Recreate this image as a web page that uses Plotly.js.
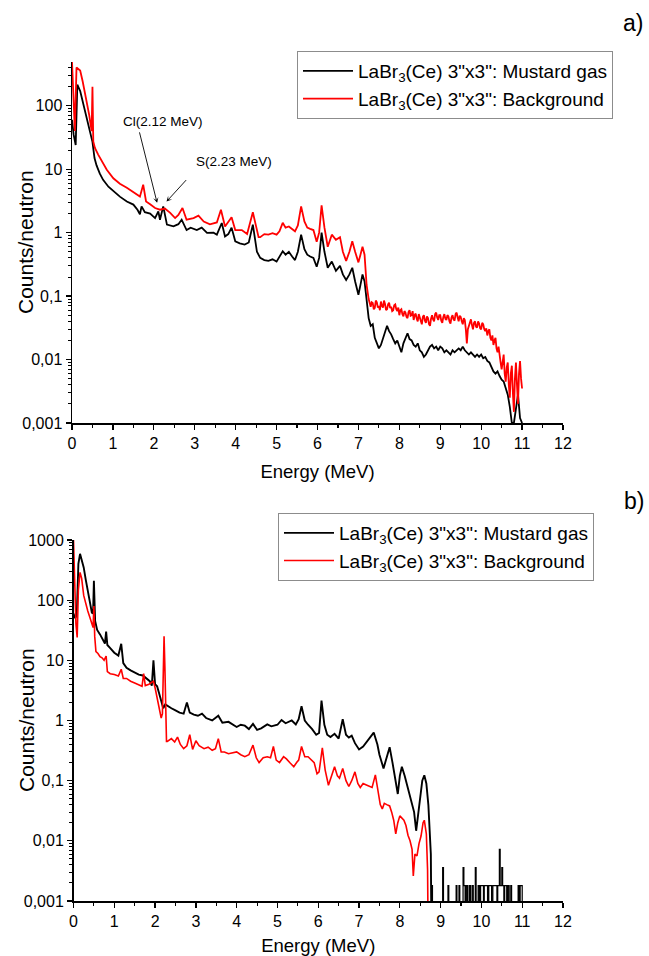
<!DOCTYPE html>
<html>
<head>
<meta charset="utf-8">
<script src="https://cdn.plot.ly/plotly-3.0.1.min.js"></script>
<style>
html,body{margin:0;padding:0;background:#fff;}
#chart{width:649px;height:956px;}
</style>
</head>
<body>
<div id="chart"></div>
<script>
// ---------- Panel a) ----------
const aE_mustard = [0,0.04,0.09,0.13,0.2,0.28,0.36,0.44,0.5,0.55,0.6,0.68,0.76,0.89,1.01,1.17,1.34,1.5,1.6,1.66,1.7,1.78,1.91,2.03,2.11,2.15,2.23,2.32,2.48,2.6,2.68,2.8,2.9,3.05,3.17,3.3,3.46,3.54,3.66,3.74,3.82,3.9,3.99,4.1,4.22,4.32,4.42,4.52,
  4.6,4.7,4.8,4.9,5.0,5.07,5.15,5.22,5.3,5.38,5.45,5.52,5.6,5.68,5.75,5.82,5.9,5.98,6.04,6.1,6.17,6.25,6.35,6.45,6.55,6.62,6.7,6.78,6.85,6.92,7.0,7.05,7.1,7.15,7.2,
  7.25,7.3,7.35,7.4,7.45,7.5,7.55,7.6,7.65,7.7,7.75,7.8,7.85,7.9,7.95,8.0,8.05,8.1,8.15,8.2,8.25,8.3,8.35,8.4,8.45,8.5,8.55,8.6,8.65,8.7,8.75,8.8,8.85,8.9,8.95,
  9.0,9.05,9.1,9.15,9.2,9.25,9.3,9.35,9.4,9.45,9.5,9.55,9.6,9.65,9.7,9.75,9.8,9.85,9.9,9.95,10.0,10.05,10.1,10.15,10.2,10.25,10.3,10.35,10.4,10.45,10.5,10.55,10.6,10.65,10.7,10.75,10.8,10.85,10.9,10.95,11.0];
const aY_mustard = [60,35,24,215,170,105,68,39,27,15,11.5,8.5,6.8,5.3,4.5,3.7,3.1,2.77,2.3,1.95,2.6,2.1,2.0,1.7,2.17,1.6,2.6,1.34,1.26,1.36,1.6,1.1,1.2,1.1,1.2,0.99,1.0,0.93,1.42,0.87,0.95,1.2,0.73,0.68,0.65,0.7,1.34,0.5,
  0.4,0.37,0.36,0.38,0.35,0.42,0.51,0.45,0.5,0.42,0.37,0.5,0.93,0.55,0.45,0.42,0.4,0.29,0.4,1.0,0.5,0.28,0.35,0.25,0.3,0.22,0.18,0.22,0.28,0.17,0.105,0.15,0.22,0.17,0.08,
  0.045,0.034,0.036,0.022,0.018,0.015,0.017,0.022,0.028,0.034,0.028,0.025,0.021,0.018,0.02,0.016,0.013,0.018,0.022,0.026,0.021,0.02,0.017,0.016,0.018,0.014,0.013,0.011,0.012,0.014,0.016,0.017,0.015,0.016,0.014,
  0.016,0.015,0.013,0.014,0.013,0.012,0.014,0.013,0.014,0.015,0.014,0.016,0.014,0.013,0.012,0.013,0.012,0.011,0.012,0.011,0.012,0.0105,0.011,0.0095,0.009,0.0075,0.0065,0.006,0.0065,0.0055,0.0048,0.0045,0.0035,0.0028,0.0018,0.001,0.001,0.0016,0.0028,0.0012,0.001];

const aE_background = [0,0.04,0.07,0.11,0.17,0.2,0.26,0.34,0.42,0.48,0.5,0.52,0.56,0.64,0.73,0.85,1.01,1.17,1.34,1.5,1.66,1.74,1.81,1.91,2.03,2.15,2.27,2.4,2.52,2.6,2.7,2.8,2.97,3.09,3.22,3.37,3.54,3.64,3.74,3.9,3.99,4.15,4.28,4.42,4.56,
  4.6,4.7,4.8,4.9,5.0,5.07,5.15,5.22,5.3,5.38,5.45,5.52,5.6,5.68,5.75,5.82,5.9,5.98,6.04,6.1,6.17,6.25,6.35,6.45,6.55,6.62,6.7,6.78,6.85,6.92,7.0,7.05,7.1,7.15,7.2,
  7.25,7.275,7.3,7.325,7.35,7.375,7.4,7.425,7.45,7.475,7.5,7.525,7.55,7.575,7.6,7.625,7.65,7.675,7.7,7.725,7.75,7.775,7.8,7.825,7.85,7.875,7.9,7.925,7.95,7.975,
  8.0,8.025,8.05,8.075,8.1,8.125,8.15,8.175,8.2,8.225,8.25,8.275,8.3,8.325,8.35,8.375,8.4,8.425,8.45,8.475,8.5,8.525,8.55,8.575,8.6,8.625,8.65,8.675,8.7,8.725,8.75,8.775,8.8,8.825,8.85,8.875,8.9,8.925,8.95,8.975,
  9.0,9.025,9.05,9.075,9.1,9.125,9.15,9.175,9.2,9.225,9.25,9.275,9.3,9.325,9.35,9.375,9.4,9.425,9.45,9.475,9.5,9.525,9.55,9.575,9.6,9.625,9.65,9.675,9.7,9.725,9.75,9.775,9.8,9.825,9.85,9.875,9.9,9.925,9.95,9.975,
  10.0,10.025,10.05,10.075,10.1,10.125,10.15,10.175,10.2,10.225,10.25,10.275,10.3,10.325,10.35,10.375,10.4,10.425,10.45,10.475,10.5,10.525,10.55,10.575,10.6,10.625,10.65,10.675,10.7,10.725,10.75,10.775,10.8,10.825,10.85,10.875,10.9,10.925,10.95,10.975,11.0];
const aY_background = [500,150,40,400,380,360,243,133,72,40,200,27.5,21.7,17,13.3,9.8,7.2,5.9,5.1,4.3,3.7,5.7,3.1,2.8,2.45,2.3,2.4,2.05,1.7,1.9,2.45,1.6,1.7,1.85,1.5,1.35,1.45,2.3,1.25,1.75,1.1,1.1,0.95,2.1,0.85,
  0.85,0.95,0.93,0.98,0.93,1.05,1.43,1.2,1.25,1.15,1.05,1.3,2.6,1.5,1.2,1.15,1.1,0.72,1.0,2.7,1.2,0.6,0.93,0.77,0.85,0.5,0.36,0.5,0.73,0.5,0.34,0.45,0.6,0.45,0.15,
  0.09,0.072,0.068,0.08,0.078,0.062,0.065,0.085,0.08,0.066,0.07,0.06,0.082,0.07,0.066,0.085,0.075,0.06,0.062,0.074,0.079,0.065,0.068,0.058,0.06,0.072,0.074,0.062,0.058,0.066,
  0.05,0.06,0.062,0.052,0.048,0.058,0.055,0.047,0.045,0.056,0.06,0.049,0.05,0.058,0.042,0.05,0.053,0.044,0.04,0.052,0.046,0.04,0.036,0.047,0.05,0.041,0.038,0.048,0.045,0.036,0.034,0.044,0.05,0.043,0.04,0.052,0.055,0.046,0.042,0.05,
  0.05,0.041,0.038,0.047,0.052,0.044,0.042,0.05,0.048,0.04,0.037,0.046,0.05,0.043,0.041,0.052,0.055,0.046,0.04,0.049,0.047,0.04,0.036,0.045,0.042,0.03,0.018,0.03,0.035,0.04,0.043,0.035,0.03,0.038,0.04,0.033,0.032,0.04,0.037,0.031,
  0.03,0.038,0.036,0.03,0.028,0.031,0.024,0.028,0.03,0.022,0.02,0.024,0.017,0.02,0.022,0.015,0.013,0.016,0.011,0.009,0.007,0.01,0.012,0.006,0.0045,0.0075,0.009,0.004,0.0025,0.006,0.008,0.003,0.0015,0.005,0.009,0.004,0.002,0.006,0.0095,0.005,0.0035];

// ---------- Panel b) ----------
const bE_mustard = [0,0.04,0.08,0.12,0.16,0.2,0.25,0.3,0.35,0.4,0.45,0.48,0.5,0.53,0.58,0.65,0.72,0.77,0.8,0.83,0.9,1.0,1.1,1.17,1.22,1.3,1.4,1.5,1.6,1.7,1.8,1.87,1.92,1.96,2.0,2.05,2.1,2.15,2.2,2.25,2.3,2.4,2.5,2.6,2.7,2.78,2.85,2.95,3.05,3.15,3.25,3.4,3.55,3.65,3.8,3.9,4.0,4.1,4.2,4.3,4.4,4.5,4.6,4.75,4.85,5.0,5.1,5.2,5.3,5.35,5.45,5.52,5.59,5.67,5.75,5.85,5.95,6.02,6.08,6.15,6.22,6.3,6.4,6.5,6.6,6.68,6.75,6.82,6.9,7.0,7.1,7.2,7.3,7.36,7.45,7.5,7.6,7.68,7.75,7.82,7.9,7.95,8.0,8.05,8.12,8.2,8.25,8.3,8.35,8.4,8.45,8.5,8.55,8.6,8.65,8.7,8.73,8.76,8.78];
const bY_mustard = [60,50,55,400,590,480,350,220,143,95,62,60,210,45,32,27,22,19,30,18,16,13.4,12,18.8,9,7.5,6.8,6.2,5.8,5.6,5.0,4.5,3.8,10,4.0,3.7,2.8,2.0,1.6,1.85,1.75,1.6,1.47,1.35,1.3,2.0,1.35,1.25,1.2,1.3,1.1,1.0,1.2,0.92,0.95,0.85,0.78,0.85,0.82,0.72,0.88,0.7,0.74,0.86,0.8,0.85,1.02,0.9,0.95,1.0,0.86,1.05,1.73,1.0,0.85,0.72,0.58,0.62,2.15,0.85,0.58,0.53,0.6,0.5,1.05,0.58,0.52,0.56,0.42,0.33,0.37,0.45,0.55,0.63,0.4,0.27,0.16,0.25,0.36,0.2,0.1,0.06,0.12,0.17,0.12,0.074,0.05,0.039,0.03,0.0147,0.03,0.06,0.1,0.123,0.09,0.039,0.015,0.006,0.0001];
// counts above 8.78 MeV: isolated single/double counts (0.0001 = empty channel)
const bE_mustardTail = [8.78,8.8,9.05,9.07,9.18,9.2,9.38,9.4,9.45,9.47,9.55,9.57,9.6,9.63,9.66,9.7,9.73,9.77,9.8,9.85,9.87,9.92,9.95,9.98,10.05,10.07,10.15,10.18,10.25,10.28,10.38,10.4,10.44,10.46,10.5,10.52,10.55,10.57,10.62,10.65,10.68,10.72,10.74,10.9,10.93,10.95,11.0];
const bY_mustardTail = [0.0018,0.0001,0.0036,0.0001,0.0018,0.0001,0.0018,0.0001,0.0018,0.0001,0.0036,0.0018,0.0001,0.0018,0.0001,0.0018,0.0001,0.0018,0.0001,0.0036,0.0001,0.0018,0.0001,0.0018,0.0001,0.0018,0.0001,0.0018,0.0001,0.0018,0.0001,0.0018,0.0072,0.0018,0.0036,0.0018,0.0001,0.0018,0.0001,0.0018,0.0001,0.0018,0.0001,0.0018,0.0001,0.0018,0.0001];

const bE_background = [0,0.03,0.06,0.09,0.12,0.16,0.2,0.25,0.3,0.35,0.4,0.45,0.48,0.5,0.52,0.55,0.6,0.65,0.7,0.75,0.8,0.83,0.9,1.0,1.1,1.17,1.22,1.3,1.4,1.5,1.6,1.68,1.72,1.76,1.85,1.9,1.96,2.0,2.03,2.1,2.15,2.18,2.2,2.22,2.24,2.26,2.28,
  2.3,2.4,2.48,2.55,2.62,2.7,2.78,2.85,2.92,3.0,3.08,3.2,3.3,3.4,3.48,3.55,3.62,3.7,3.8,3.9,4.0,4.1,4.2,4.3,4.4,4.48,4.55,4.65,4.75,4.83,4.9,4.97,5.05,5.15,5.22,5.3,5.4,5.47,5.52,5.59,5.67,5.75,5.83,5.9,5.97,6.02,6.1,6.17,6.25,6.32,6.4,6.47,6.52,6.6,6.68,6.75,6.82,6.9,6.97,7.03,7.1,7.18,7.25,7.32,7.4,7.47,7.52,7.57,7.62,7.68,7.75,7.8,7.85,7.9,7.95,8.0,8.05,8.1,8.15,8.2,8.25,8.3,8.33,8.37,8.42,8.47,8.52,8.57,8.6,8.65,8.68,8.7];
const bY_background = [1000,200,40,24,150,290,230,120,85,66,52,40,35,80,25,14,13,11.5,11,10,11.8,6.5,6.0,5.8,5.5,7.1,5.0,5.0,4.5,4.2,3.9,3.7,6.0,3.8,4.0,4.2,4.5,3.5,2.7,1.6,1.1,1.3,10,25,8,0.8,0.45,
  0.45,0.5,0.44,0.53,0.4,0.34,0.38,0.58,0.33,0.46,0.38,0.34,0.36,0.32,0.34,0.5,0.3,0.3,0.28,0.29,0.3,0.27,0.25,0.27,0.39,0.24,0.2,0.24,0.25,0.24,0.37,0.22,0.2,0.25,0.23,0.2,0.17,0.2,0.22,0.37,0.25,0.25,0.22,0.2,0.13,0.14,0.35,0.15,0.084,0.12,0.17,0.12,0.11,0.16,0.1,0.08,0.1,0.14,0.09,0.077,0.09,0.085,0.08,0.077,0.125,0.06,0.04,0.034,0.042,0.04,0.038,0.03,0.022,0.013,0.02,0.026,0.024,0.022,0.018,0.0124,0.01,0.0072,0.0026,0.006,0.0056,0.009,0.012,0.02,0.022,0.013,0.0033,0.0001];

// ---------- text ----------
const seriesNames = ['LaBr<sub>3</sub>(Ce) 3"x3": Mustard gas', 'LaBr<sub>3</sub>(Ce) 3"x3": Background'];
const xTickVals = [0,1,2,3,4,5,6,7,8,9,10,11,12];
const yTickValsA = [0.001,0.01,0.1,1,10,100];
const yTickTextA = ['0,001','0,01','0,1','1','10','100'];
const yTickValsB = [0.001,0.01,0.1,1,10,100,1000];
const yTickTextB = ['0,001','0,01','0,1','1','10','100','1000'];
const xTitle = 'Energy (MeV)';
const yTitle = 'Counts/neutron';

const W = 649, H = 956;
const ARIAL = 'Liberation Sans, Arial, sans-serif';
const TICKFONT = {family:ARIAL, size:16, color:'#000'};
const XTITLEFONT = {family:ARIAL, size:18.5, color:'#000'};
const YTITLEFONT = {family:ARIAL, size:21, color:'#000'};
const LEGFONT = {family:ARIAL, size:19, color:'#000'};

function minorLog(lo, hi){
  const v=[];
  for(let d=lo; d<hi; d++){ for(let m=2;m<10;m++){ v.push(m*Math.pow(10,d)); } }
  return v;
}

const traces = [
  {x:aE_mustard, y:aY_mustard, type:'scatter', mode:'lines', name:seriesNames[0], line:{color:'#000000', width:1.8}, xaxis:'x', yaxis:'y', legend:'legend'},
  {x:aE_background, y:aY_background, type:'scatter', mode:'lines', name:seriesNames[1], line:{color:'#ff0000', width:1.8}, xaxis:'x', yaxis:'y', legend:'legend'},
  {x:bE_mustard, y:bY_mustard, type:'scatter', mode:'lines', name:seriesNames[0], line:{color:'#000000', width:1.9}, xaxis:'x2', yaxis:'y2', legend:'legend2'},
  {x:bE_mustardTail, y:bY_mustardTail, type:'scatter', mode:'lines', name:seriesNames[0], line:{color:'#000000', width:1.2, shape:'hv'}, xaxis:'x2', yaxis:'y2', showlegend:false},
  {x:bE_background, y:bY_background, type:'scatter', mode:'lines', name:seriesNames[1], line:{color:'#ff0000', width:1.6}, xaxis:'x2', yaxis:'y2', legend:'legend2'}
];

function xAxis(dom, anchor, standoff){
  return {domain:dom, anchor:anchor, range:[0,12], tickvals:xTickVals, ticktext:xTickVals.map(String),
    ticks:'outside', ticklen:5, tickwidth:1.3, tickcolor:'#000', showline:true, linecolor:'#000', linewidth:1.5,
    showgrid:false, zeroline:false, tickfont:TICKFONT, automargin:false,
    minor:{tickmode:'linear', tick0:0.5, dtick:1, ticks:'outside', ticklen:3, tickwidth:1.1, tickcolor:'#000', showgrid:false},
    title:{text:xTitle, font:XTITLEFONT, standoff:standoff}};
}
function yAxis(dom, anchor, range, tv, tt){
  return {domain:dom, anchor:anchor, type:'log', range:range, tickvals:tv, ticktext:tt,
    ticks:'outside', ticklen:5, tickwidth:1.3, tickcolor:'#000', showline:true, linecolor:'#000', linewidth:1.5,
    showgrid:false, zeroline:false, tickfont:TICKFONT, automargin:false,
    minor:{tickmode:'array', tickvals:minorLog(-3, Math.ceil(range[1])), ticks:'outside', ticklen:3, tickwidth:1, tickcolor:'#000', showgrid:false}};
}

const legendBase = {xanchor:'left', yanchor:'top', bgcolor:'#fff', bordercolor:'#8c8c8c', borderwidth:1, font:LEGFONT, traceorder:'normal', itemwidth:50};

const layout = {
  width:W, height:H, margin:{l:0,r:0,t:0,b:0}, paper_bgcolor:'#fff', plot_bgcolor:'#fff',
  xaxis: xAxis([72/W, 563/W], 'y', 14),
  yaxis: yAxis([1-423/H, 1-62/H], 'x', [-3, 2.69], yTickValsA, yTickTextA),
  xaxis2: xAxis([73.5/W, 563/W], 'y2', 10),
  yaxis2: yAxis([1-901/H, 1-540/H], 'x2', [-3, 3], yTickValsB, yTickTextB),
  legend: Object.assign({x:297/W, y:1-51/H}, legendBase),
  legend2: Object.assign({x:278/W, y:1-513/H}, legendBase),
  showlegend:true,
  annotations:[
    {xref:'paper', yref:'paper', x:26/W, y:1-242/H, xanchor:'center', yanchor:'middle', text:yTitle, textangle:-90, showarrow:false, font:YTITLEFONT},
    {xref:'paper', yref:'paper', x:26/W, y:1-720/H, xanchor:'center', yanchor:'middle', text:yTitle, textangle:-90, showarrow:false, font:YTITLEFONT},
    {xref:'paper', yref:'paper', x:633/W, y:1-23/H, xanchor:'center', yanchor:'middle', text:'a)', showarrow:false, font:{family:ARIAL, size:23, color:'#000'}},
    {xref:'paper', yref:'paper', x:634/W, y:1-501/H, xanchor:'center', yanchor:'middle', text:'b)', showarrow:false, font:{family:ARIAL, size:23, color:'#000'}},
    {xref:'x', yref:'y', x:2.22, y:1.75, xanchor:'center', yanchor:'middle', text:'Cl(2.12 MeV)', showarrow:false, font:{family:ARIAL, size:13.5, color:'#000'}},
    {xref:'x', yref:'y', x:3.96, y:1.125, xanchor:'center', yanchor:'middle', text:'S(2.23 MeV)', showarrow:false, font:{family:ARIAL, size:13.5, color:'#000'}},
    {xref:'x', yref:'y', x:2.08, y:0.47, text:'', showarrow:true, ax:-18, ay:-72, arrowhead:3, arrowsize:1, arrowwidth:0.9, arrowcolor:'#000'},
    {xref:'x', yref:'y', x:2.31, y:0.49, text:'', showarrow:true, ax:21, ay:-23, arrowhead:3, arrowsize:1, arrowwidth:0.9, arrowcolor:'#000'}
  ]
};

Plotly.newPlot('chart', traces, layout, {staticPlot:true, displayModeBar:false});
</script>
</body>
</html>
